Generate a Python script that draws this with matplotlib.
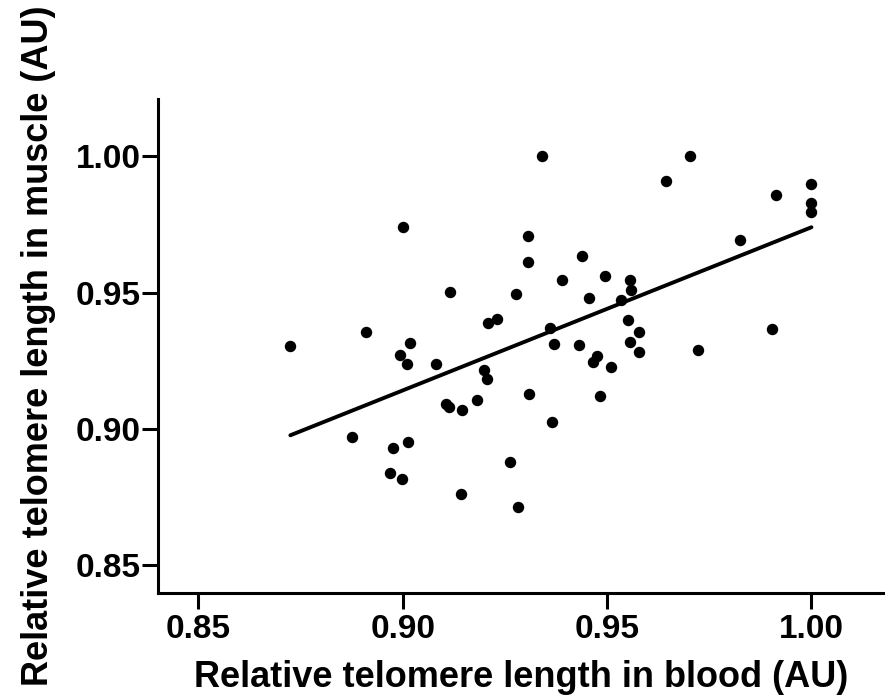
import numpy as np
from matplotlib import pyplot as plt

plt.rcParams['font.family'] = ['Liberation Sans', 'DejaVu Sans']
plt.rcParams['font.weight'] = 'bold'

# telomere length, blood (x) vs muscle (y)
blood = [0.934, 0.900, 0.9306, 0.9307, 0.9116, 0.9278, 0.9209, 0.9230, 0.9361, 0.891,
         0.9704, 0.9643, 1.000, 0.9914, 1.000, 1.000, 0.9826, 0.9438, 0.939, 0.9494,
         0.9555, 0.9559, 0.9456, 0.9533, 0.9550, 0.9903, 0.8725, 0.9018, 0.8993, 0.9011,
         0.9082, 0.937, 0.9198, 0.9205, 0.9107, 0.9112, 0.9144, 0.9181, 0.9308, 0.9364,
         0.8875, 0.8975, 0.9012, 0.8969, 0.8997, 0.9143, 0.9263, 0.9283, 0.9579, 0.9556,
         0.9579, 0.9431, 0.9476, 0.9465, 0.951, 0.9482, 0.9723]
muscle = [1.000, 0.974, 0.9707, 0.9612, 0.9502, 0.9496, 0.939, 0.9405, 0.9371, 0.9355,
          1.000, 0.9908, 0.990, 0.9857, 0.9829, 0.9795, 0.9692, 0.9634, 0.9546, 0.956,
          0.9546, 0.951, 0.9482, 0.9474, 0.940, 0.9368, 0.9306, 0.9315, 0.9273, 0.924,
          0.9238, 0.9313, 0.9216, 0.9184, 0.909, 0.9082, 0.9071, 0.9106, 0.9128, 0.9025,
          0.8972, 0.8929, 0.8951, 0.884, 0.8818, 0.8763, 0.8878, 0.8714, 0.9357, 0.9318,
          0.9284, 0.9307, 0.9267, 0.9247, 0.9226, 0.9122, 0.9288]

# regression line ends
fit_x = [0.8725, 1.000]
fit_y = [0.8977, 0.974]

ticks = [0.85, 0.90, 0.95, 1.00]
tick_labels = ["0.85", "0.90", "0.95", "1.00"]

fig = plt.figure(figsize=(8.85, 6.98), dpi=100)
ax = fig.add_axes([0.178, 0.151, 0.822, 0.707])

ax.scatter(blood, muscle, s=52, color='black', zorder=3)
ax.plot(fit_x, fit_y, color='black', lw=2.8, solid_capstyle='round')

ax.set_xlim(0.84, 1.018)
ax.set_ylim(0.84, 1.021)
ax.set_xticks(ticks)
ax.set_xticklabels(tick_labels)
ax.set_yticks(ticks)
ax.set_yticklabels(tick_labels)

for s in ['top', 'right']:
    ax.spines[s].set_visible(False)
for s in ['left', 'bottom']:
    ax.spines[s].set_linewidth(2.2)

ax.tick_params(axis='both', width=2.2, length=11.5, labelsize=24)
ax.tick_params(axis='x', pad=4)
ax.tick_params(axis='y', pad=0.5)

ax.set_xlabel("Relative telomere length in blood (AU)", fontsize=26, fontweight='bold', labelpad=11)
ax.set_ylabel("Relative telomere length in muscle (AU)", fontsize=26, fontweight='bold', labelpad=14)

fig.savefig("out.png", dpi=100)
